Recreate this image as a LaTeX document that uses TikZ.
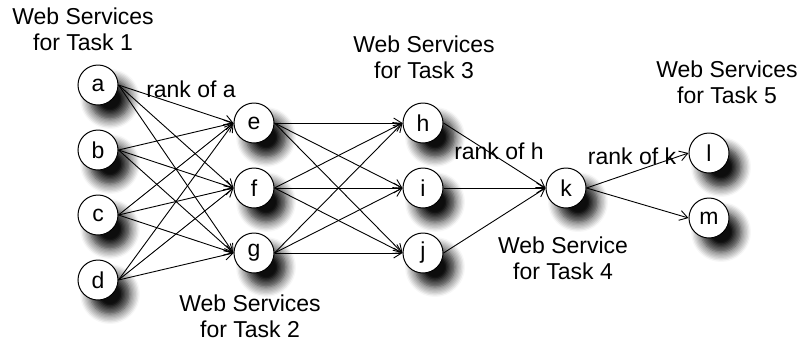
\documentclass[tikz,border=0pt]{standalone}
\usepackage{fontspec}
\setmainfont{Liberation Sans}
\usetikzlibrary{arrows.meta, positioning, shadows.blur}

\begin{document}
\begin{tikzpicture}[
      x=0.5pt, y=-0.5pt,
      node distance=12pt,
      font=\fontsize{11.5}{13}\selectfont,
      service/.style={circle, draw, line width=0.5pt, fill=white, minimum size=20pt, inner sep=0pt,
        blur shadow={shadow xshift=6pt, shadow yshift=-7pt, shadow blur radius=5pt, shadow blur steps=8, shadow opacity=95}},
      group/.style={align=center},
      arrow/.style={-{Straight Barb[length=4pt, width=5pt]}, line width=0.45pt}
    ]
    \useasboundingbox (0,0) rectangle (798,345);

    % task 1
    \node[service] (a) at (98,85) {a};
    \node[service, below=of a] (b) {b};
    \node[service, below=of b] (c) {c};
    \node[service, below=of c] (d) {d};

    % task 2
    \node[service] (e) at (254,123) {e};
    \node[service, below=of e] (f) {f};
    \node[service, below=of f] (g) {g};

    % task 3
    \node[service] (h) at (423,123) {h};
    \node[service, below=of h] (i) {i};
    \node[service, below=of i] (j) {j};

    % task 4 and 5
    \node[service] (k) at (566,188) {k};
    \node[service] (l) at (709,153) {l};
    \node[service, below=of l] (m) {m};

    \foreach \s in {a,b,c,d}
      \foreach \t in {e,f,g}
        \draw[arrow] (\s.east) -- (\t.west);
    \foreach \s in {e,f,g}
      \foreach \t in {h,i,j}
        \draw[arrow] (\s.east) -- (\t.west);
    \foreach \s in {h,i,j}
      \draw[arrow] (\s.east) -- (k.west);
    \draw[arrow] (k.east) -- (l.west);
    \draw[arrow] (k.east) -- (m.west);

    \node[group] (task1) at (83,29) {Web Services\\for Task 1};
    \node[group] (task2) at (250,316) {Web Services\\for Task 2};
    \node[group] (task3) at (424,57) {Web Services\\for Task 3};
    \node[group] (task4) at (563,258) {Web Service\\for Task 4};
    \node[group] (task5) at (727,82) {Web Services\\for Task 5};

    \node (ranka) at (191,89) {rank of a};
    \node (rankh) at (499,151) {rank of h};
    \node (rankk) at (632,156) {rank of k};
  \end{tikzpicture}
\end{document}
